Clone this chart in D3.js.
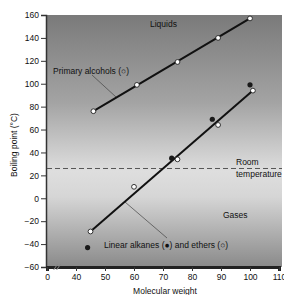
<!DOCTYPE html>
<html>
<head>
<meta charset="utf-8">
<script src="https://cdn.jsdelivr.net/npm/d3@7"></script>
<style>
  html, body { margin: 0; padding: 0; background: #fff; }
  svg text { font-family: "Liberation Sans", Arial, sans-serif; fill: #111; }
</style>
</head>
<body>
<svg id="chart"></svg>
<script>
// data
const alcoholMW = [46, 61, 75, 89, 100];
const alcoholBP = [76, 99, 119, 140, 157];
const alkaneMW = [44, 73, 87, 100];
const alkaneBP = [-43, 35, 69, 99];
const etherMW = [45, 60, 75, 89, 101];
const etherBP = [-29, 10, 34, 64, 94];
const roomTemp = 26;
const yTicks = [-60, -40, -20, 0, 20, 40, 60, 80, 100, 120, 140, 160];
const xTicks = [30, 40, 50, 60, 70, 80, 90, 100, 110];
const xTickLabels = ['0', '40', '50', '60', '70', '80', '90', '100', '110'];

const W = 284, H = 295;
const m = { left: 46, top: 15, right: 2, bottom: 28 };

const svg = d3.select('#chart').attr('width', W).attr('height', H);

const x = d3.scaleLinear().domain([30, 110]).range([m.left + 1, W - m.right - 3]);
const y = d3.scaleLinear().domain([-60, 160]).range([H - m.bottom, m.top]);

// background gradient
const grad = svg.append('defs').append('linearGradient')
  .attr('id', 'bg').attr('x1', 0).attr('y1', 0).attr('x2', 0).attr('y2', 1);
[[0, '#7a7a7a'], [0.35, '#a4a4a4'], [0.62, '#dedede'], [0.72, '#d6d6d6'], [1, '#8a8a8a']]
  .forEach(([o, c]) => grad.append('stop').attr('offset', o).attr('stop-color', c));

svg.append('rect')
  .attr('x', m.left).attr('y', m.top)
  .attr('width', W - m.right - m.left).attr('height', y(-60) - m.top)
  .attr('fill', 'url(#bg)');

// left axis
const yAxis = svg.append('g')
  .attr('transform', `translate(${m.left},0)`)
  .call(d3.axisLeft(y).tickValues(yTicks).tickSize(5).tickPadding(2));
yAxis.select('.domain').attr('stroke', '#333').attr('stroke-width', 1.5);
yAxis.selectAll('.tick line').attr('stroke', '#333');
yAxis.selectAll('text').style('font-size', '8.5px').attr('fill', '#111');

// bottom axis
const xAxis = svg.append('g')
  .attr('transform', `translate(0,${y(-60)})`)
  .call(d3.axisBottom(x).tickValues(xTicks).tickFormat((d, i) => xTickLabels[i]).tickSize(4).tickPadding(3));
xAxis.select('.domain').attr('stroke', '#222').attr('stroke-width', 3);
xAxis.selectAll('.tick line').attr('stroke', '#333');
xAxis.selectAll('text').style('font-size', '8.5px').attr('fill', '#111');

// axis break
const bx = x(33.5), by = y(-60);
[-1.5, 1.5].forEach((dx) => {
  svg.append('line')
    .attr('x1', bx + dx - 2).attr('y1', by + 3)
    .attr('x2', bx + dx + 2).attr('y2', by - 3)
    .attr('stroke', '#888').attr('stroke-width', 1);
});

// room temperature line
svg.append('line')
  .attr('x1', m.left + 1).attr('x2', W - m.right)
  .attr('y1', y(roomTemp)).attr('y2', y(roomTemp))
  .attr('stroke', '#555').attr('stroke-width', 1)
  .attr('stroke-dasharray', '5,3');

// pointer lines
svg.append('line')
  .attr('x1', 92).attr('y1', 75).attr('x2', 116).attr('y2', 97)
  .attr('stroke', '#444').attr('stroke-width', 0.7);
svg.append('line')
  .attr('x1', 125).attr('y1', 202).attr('x2', 167).attr('y2', 238)
  .attr('stroke', '#444').attr('stroke-width', 0.7);

// fit lines
const line = d3.line().x((d) => x(d[0])).y((d) => y(d[1]));
const alcohols = alcoholMW.map((d, i) => [d, alcoholBP[i]]);
const ethers = etherMW.map((d, i) => [d, etherBP[i]]);
const alkanes = alkaneMW.map((d, i) => [d, alkaneBP[i]]);

svg.append('path')
  .attr('d', line([alcohols[0], alcohols[alcohols.length - 1]]))
  .attr('stroke', '#111').attr('stroke-width', 2).attr('fill', 'none');
svg.append('path')
  .attr('d', line([ethers[0], ethers[ethers.length - 1]]))
  .attr('stroke', '#111').attr('stroke-width', 2).attr('fill', 'none');

// points
svg.append('g').selectAll('circle').data(alkanes).join('circle')
  .attr('cx', (d) => x(d[0])).attr('cy', (d) => y(d[1]))
  .attr('r', 2.6).attr('fill', '#1a1a1a');
svg.append('g').selectAll('circle').data(alcohols.concat(ethers)).join('circle')
  .attr('cx', (d) => x(d[0])).attr('cy', (d) => y(d[1]))
  .attr('r', 2.4).attr('fill', '#fff').attr('stroke', '#222').attr('stroke-width', 0.9);

// labels
const label = (tx, ty, t) =>
  svg.append('text').attr('x', tx).attr('y', ty).style('font-size', '8.5px').text(t);
label(150, 27, 'Liquids');
label(53, 74, 'Primary alcohols (○)');
label(236, 165, 'Room');
label(236, 176.5, 'temperature');
label(223, 218, 'Gases');
label(104, 247.5, 'Linear alkanes (●) and ethers (○)');
label(165, 293.5, 'Molecular weight').attr('text-anchor', 'middle');
svg.append('text')
  .attr('transform', `translate(17,145) rotate(-90)`)
  .attr('text-anchor', 'middle')
  .style('font-size', '8.5px')
  .text('Boiling point (°C)');
</script>
</body>
</html>
